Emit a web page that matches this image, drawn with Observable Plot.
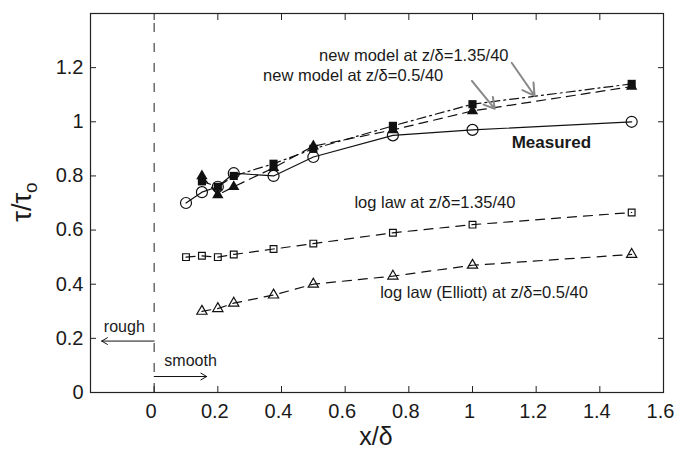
<!DOCTYPE html>
<html><head><meta charset="utf-8">
<script src="https://cdn.jsdelivr.net/npm/d3@7"></script>
<script src="https://cdn.jsdelivr.net/npm/@observablehq/plot@0.6"></script>
<style>body{margin:0;background:#fff}</style>
</head><body><div id="chart"></div>
<script>
// ---- data ----
const measuredX = [0.1, 0.15, 0.2, 0.25, 0.375, 0.5, 0.75, 1.0, 1.5];
const measuredY = [0.70, 0.74, 0.76, 0.81, 0.80, 0.87, 0.95, 0.97, 1.00];
const modelX = [0.15, 0.2, 0.25, 0.375, 0.5, 0.75, 1.0, 1.5];
const model135Y = [0.78, 0.76, 0.80, 0.845, 0.90, 0.985, 1.065, 1.14];   // filled squares, dash-dot
const model05Y  = [0.80, 0.73, 0.76, 0.83, 0.91, 0.97, 1.04, 1.13];      // filled triangles, dashed
const log135X = [0.1, 0.15, 0.2, 0.25, 0.375, 0.5, 0.75, 1.0, 1.5];
const log135Y = [0.50, 0.505, 0.50, 0.51, 0.53, 0.55, 0.59, 0.62, 0.665]; // open squares
const elliottX = [0.15, 0.2, 0.25, 0.375, 0.5, 0.75, 1.0, 1.5];
const elliottY = [0.30, 0.31, 0.33, 0.36, 0.40, 0.43, 0.47, 0.51];        // open triangles

const xTicks = [0, 0.2, 0.4, 0.6, 0.8, 1, 1.2, 1.4, 1.6];
const xTickLabels = ["0", "0.2", "0.4", "0.6", "0.8", "1", "1.2", "1.4", "1.6"];
const yTicks = [0, 0.2, 0.4, 0.6, 0.8, 1, 1.2];
const yTickLabels = ["0", "0.2", "0.4", "0.6", "0.8", "1", "1.2"];

// annotations (data coordinates)
const labelTexts = ["new model at z/δ=1.35/40", "new model at z/δ=0.5/40", "log law at z/δ=1.35/40", "log law (Elliott) at z/δ=0.5/40"];
const labelX = [0.518, 0.342, 0.629, 0.71];
const labelY = [1.244, 1.170, 0.701, 0.369];
const measuredLabel = {text: "Measured", x: 1.123, y: 0.9225};
const grayArrowX1 = [1.123, 0.998];
const grayArrowY1 = [1.218, 1.151];
const grayArrowX2 = [1.195, 1.07];
const grayArrowY2 = [1.096, 1.048];
const regimeTexts = ["rough", "smooth"];
const regimeTextX = [-0.158, 0.032];
const regimeTextY = [0.244, 0.118];
const regimeArrowX2 = [-0.165, 0.165];
const regimeArrowY = [0.19, 0.059];
const boundaryX = [0];

// ---- build ----
const zip = (xs, ys) => xs.map((x, i) => ({x, y: ys[i]}));
const measured = zip(measuredX, measuredY);
const m135 = zip(modelX, model135Y);
const m05 = zip(modelX, model05Y);
const l135 = zip(log135X, log135Y);
const ell = zip(elliottX, elliottY);
const labels = labelTexts.map((t, i) => ({t, x: labelX[i], y: labelY[i]}));
const grayArrows = grayArrowX1.map((x1, i) => ({x1, y1: grayArrowY1[i], x2: grayArrowX2[i], y2: grayArrowY2[i]}));
const regimeLabels = regimeTexts.map((t, i) => ({t, x: regimeTextX[i], y: regimeTextY[i]}));
const regimeArrows = regimeArrowX2.map((x2, i) => ({x1: boundaryX[0], x2, y: regimeArrowY[i]}));

const font = "Liberation Sans, Arial, Helvetica, sans-serif";
const fmtX = d => xTickLabels[xTicks.indexOf(d)] ?? "";
const fmtY = d => yTickLabels[yTicks.indexOf(d)] ?? "";

const chart = Plot.plot({
  width: 674,
  height: 452,
  marginLeft: 90,
  marginRight: 11,
  marginTop: 13,
  marginBottom: 60,
  style: {fontFamily: font, fontSize: "20px", color: "#1a1a1a", background: "#fff"},
  x: {domain: [-0.2, 1.6]},
  y: {domain: [0, 1.4]},
  marks: [
    // vertical boundary
    Plot.ruleX(boundaryX, {x: d => d, y1: 0, y2: 1.4, stroke: "#444", strokeWidth: 1.2, strokeDasharray: "9,11"}),
    // lines
    Plot.line(measured, {x: "x", y: "y", stroke: "#111", strokeWidth: 1.2}),
    Plot.line(m135, {x: "x", y: "y", stroke: "#111", strokeWidth: 1.2, strokeDasharray: "9,4,2,4"}),
    Plot.line(m05, {x: "x", y: "y", stroke: "#111", strokeWidth: 1.2, strokeDasharray: "9,6"}),
    Plot.line(l135, {x: "x", y: "y", stroke: "#111", strokeWidth: 1.2, strokeDasharray: "9,7"}),
    Plot.line(ell, {x: "x", y: "y", stroke: "#111", strokeWidth: 1.2, strokeDasharray: "9,7"}),
    // markers
    Plot.dot(m135, {x: "x", y: "y", symbol: "square", r: 4.6, fill: "#111", stroke: "none"}),
    Plot.dot(m05, {x: "x", y: "y", symbol: "triangle", r: 4.2, fill: "#111", stroke: "none"}),
    Plot.dot(measured, {x: "x", y: "y", symbol: "circle", r: 5.5, fill: "none", stroke: "#111", strokeWidth: 1.2}),
    Plot.dot(l135, {x: "x", y: "y", symbol: "square", r: 3.8, fill: "none", stroke: "#111", strokeWidth: 1.2}),
    Plot.dot(ell, {x: "x", y: "y", symbol: "triangle", r: 3.8, fill: "none", stroke: "#111", strokeWidth: 1.2}),
    // annotations
    Plot.arrow(grayArrows, {x1: "x1", y1: "y1", x2: "x2", y2: "y2", stroke: "#888", strokeWidth: 2, headLength: 12}),
    Plot.arrow(regimeArrows, {x1: "x1", y1: "y", x2: "x2", y2: "y", stroke: "#111", strokeWidth: 1, headLength: 10}),
    Plot.text(labels, {x: "x", y: "y", text: "t", textAnchor: "start", fontSize: 16.5, fill: "#1a1a1a"}),
    Plot.text([measuredLabel], {x: "x", y: "y", text: "text", textAnchor: "start", fontSize: 17, fontWeight: "bold", fill: "#1a1a1a"}),
    Plot.text(regimeLabels, {x: "x", y: "y", text: "t", textAnchor: "start", fontSize: 16, fill: "#1a1a1a"}),
    // axes: labels
    Plot.axisX(xTicks, {anchor: "bottom", tickSize: 0, tickPadding: 11, dx: -3, tickFormat: fmtX, label: null}),
    Plot.axisY(yTicks, {anchor: "left", tickSize: 0, tickPadding: 7, tickFormat: fmtY, label: null}),
    // axes: inward ticks on all sides
    Plot.axisX(xTicks, {anchor: "bottom", tickSize: -6, tickFormat: () => "", label: null, stroke: "#222"}),
    Plot.axisX(xTicks, {anchor: "top", tickSize: -6, tickFormat: () => "", label: null, stroke: "#222"}),
    Plot.axisY(yTicks, {anchor: "left", tickSize: -6, tickFormat: () => "", label: null, stroke: "#222"}),
    Plot.axisY(yTicks, {anchor: "right", tickSize: -6, tickFormat: () => "", label: null, stroke: "#222"}),
    Plot.frame({stroke: "#222", strokeWidth: 1.2})
  ]
});

const svg = d3.select(chart);
// x label
svg.append("text")
  .attr("x", 376).attr("y", 445)
  .attr("text-anchor", "middle")
  .attr("font-family", font).attr("font-size", 25).attr("fill", "#1a1a1a")
  .text("x/δ");
// y label with subscript
const yl = svg.append("text")
  .attr("transform", "translate(31,202) rotate(-90)")
  .attr("text-anchor", "middle")
  .attr("font-family", font).attr("font-size", 27).attr("fill", "#1a1a1a");
yl.append("tspan").text("τ/τ");
yl.append("tspan").attr("dy", "0.3em").attr("font-size", 19).text("o");

document.getElementById("chart").appendChild(chart);
</script>
</body></html>
